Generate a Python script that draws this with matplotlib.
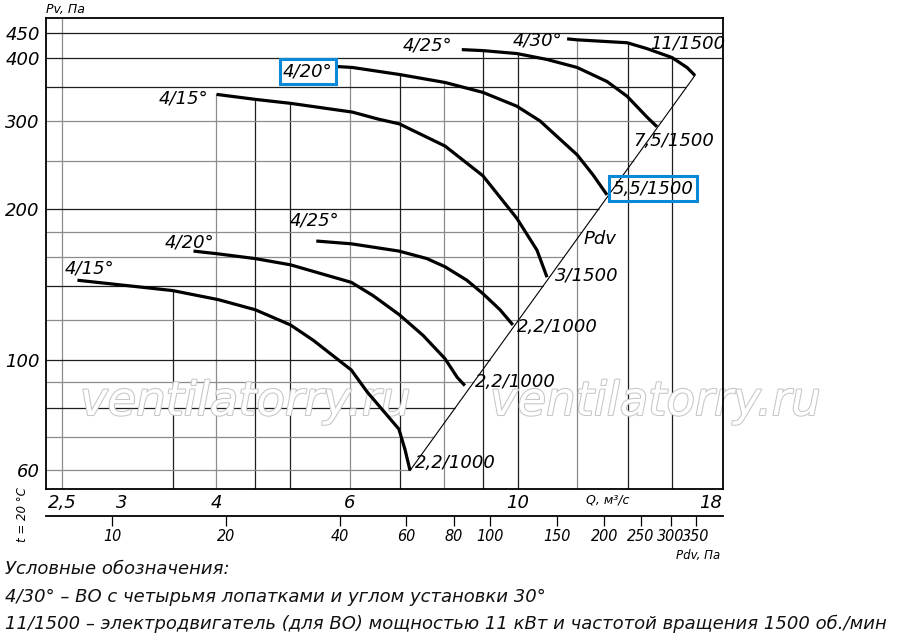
import numpy as np
import matplotlib
matplotlib.use("Agg")
import matplotlib.pyplot as plt
from matplotlib import patheffects as pe
from matplotlib.ticker import NullLocator

plt.rcParams['font.family'] = ['DejaVu Sans']
plt.rcParams['font.style'] = 'italic'

# ---------------- data ----------------
# lower group (2,2/1000 motors)
q_415_low = [2.62, 3.50, 4.02, 4.50, 5.01, 5.37, 6.03, 6.33, 6.97, 7.10, 7.21]
p_415_low = [144.1, 137.4, 131.8, 125.8, 117.3, 109.3, 95.3, 86.1, 72.6, 66.1, 60.0]
q_420_low = [3.73, 4.02, 4.50, 5.01, 6.03, 6.44, 6.98, 7.50, 8.02, 8.32, 8.52]
p_420_low = [164.8, 162.7, 159.2, 154.7, 142.7, 134.3, 122.9, 111.8, 100.4, 92.2, 88.7]
q_425_low = [5.42, 6.03, 6.97, 7.59, 8.02, 8.57, 9.00, 9.48, 9.86]
p_425_low = [172.6, 170.4, 164.8, 159.2, 153.3, 144.1, 135.5, 125.8, 117.3]
# upper group (1500 rpm motors)
q_415_up = [4.00, 4.50, 5.01, 6.05, 6.54, 6.98, 8.02, 9.00, 9.98, 10.61, 10.94]
p_415_up = [339.1, 331.4, 325.4, 312.5, 302.7, 296.0, 267.3, 233.1, 191.6, 165.5, 146.1]
q_420_up = [5.77, 6.05, 6.98, 8.02, 9.00, 9.98, 10.71, 11.99, 12.58, 13.13]
p_420_up = [385.5, 383.8, 371.6, 358.2, 342.2, 321.1, 300.0, 256.7, 234.2, 213.5]
q_425_up = [8.44, 9.00, 9.98, 10.94, 11.99, 13.13, 13.96, 14.83, 15.29]
p_425_up = [416.7, 414.8, 409.2, 398.2, 383.8, 359.8, 336.1, 305.4, 292.1]
q_430_up = [11.63, 11.99, 13.96, 14.83, 16.00, 16.75, 17.16]
p_430_up = [437.9, 435.9, 430.1, 418.6, 401.8, 383.8, 369.9]

# Pdv (dynamic pressure) line
q_pdv = [7.21, 17.16]
p_pdv = [60.0, 369.9]
K_PDV = 1.18  # Pdv = K * Q^2

q_grid = [2.5, 3.5, 4, 4.5, 5, 6, 7, 8, 9, 10, 12, 14, 16]
p_grid = [60, 70, 80, 90, 100, 120, 140, 160, 180, 200, 250, 300, 350, 400, 450]
q_ticks = [2.5, 3, 4, 6, 10, 18]
q_ticklabels = ["2,5", "3", "4", "6", "10", "18"]
p_ticks = [60, 100, 200, 300, 400, 450]
p_ticklabels = ["60", "100", "200", "300", "400", "450"]
pdv_ticks = [10, 20, 40, 60, 80, 100, 150, 200, 250, 300, 350]
pdv_ticklabels = [str(v) for v in pdv_ticks]

curves = [
    (q_415_low, p_415_low), (q_420_low, p_420_low), (q_425_low, p_425_low),
    (q_415_up, p_415_up), (q_420_up, p_420_up), (q_425_up, p_425_up),
    (q_430_up, p_430_up),
]

# ---------------- figure ----------------
W, H = 900, 640
fig = plt.figure(figsize=(9, 6.4), dpi=100)
ax = fig.add_axes([46 / W, 1 - 489 / H, 677 / W, 471 / H])
ax.set_xscale('log')
ax.set_yscale('log')
XLIM = (2.381, 18.69)
YLIM = (55.1, 482.0)
ax.set_xlim(*XLIM)
ax.set_ylim(*YLIM)

def p_on_curve(q, qs, ps):
    if qs[0] - 1e-9 <= q <= qs[-1] + 1e-9:
        return 10 ** np.interp(np.log10(q), np.log10(qs), np.log10(ps))
    return None

def q_on_pdv(p):
    lq = np.log10(q_pdv); lp = np.log10(p_pdv)
    return 10 ** np.interp(np.log10(p), lp, lq)

gray_v = {2.5, 4, 6, 8, 12}
gray_h = {60, 70, 90, 120, 160, 180, 250, 300}
GRAY = '#8c8c8c'
DARK = '#1e1e1e'

# vertical grid lines: from bottom up to the envelope of curves
for q in q_grid:
    tops = [p_on_curve(q, qs, ps) for qs, ps in curves]
    tops = [t for t in tops if t is not None]
    top = max(tops) if tops else YLIM[1]
    ax.plot([q, q], [YLIM[0], top], color=GRAY if q in gray_v else DARK,
            lw=0.9, zorder=1, solid_capstyle='butt')

# horizontal grid lines: from the left edge to the Pdv line
for p in p_grid:
    right = q_on_pdv(p) if p_pdv[0] <= p <= p_pdv[1] else XLIM[1]
    ax.plot([XLIM[0], right], [p, p], color=GRAY if p in gray_h else DARK,
            lw=0.9, zorder=1, solid_capstyle='butt')

# watermark
for xf in (80, 490):
    ax.text((xf - 46) / 677, (489 - 415) / 471, "ventilatorry.ru",
            transform=ax.transAxes, fontsize=33.5, color='white',
            fontstyle='oblique', ha='left', va='baseline', zorder=2,
            path_effects=[pe.withStroke(linewidth=1.5, foreground='#c6c6c6')])

# curves
for qs, ps in curves:
    ax.plot(qs, ps, color='black', lw=2.3, zorder=3,
            solid_capstyle='butt', solid_joinstyle='round')
ax.plot(q_pdv, p_pdv, color='black', lw=0.8, zorder=3)

# labels on the chart
FS = 13
blue = '#0a8ad6'
lbl = dict(fontsize=FS, va='center', ha='left', zorder=4)
ax.text(2.52, 151.8, "4/15°", **lbl)
ax.text(3.42, 171.1, "4/20°", **lbl)
ax.text(5.00, 189.7, "4/25°", **lbl)
ax.text(3.35, 333.0, "4/15°", **lbl)
ax.text(4.90, 376.8, "4/20°", bbox=dict(boxstyle='square,pad=0.2', fc='none',
                                         ec=blue, lw=2.2), **lbl)
ax.text(7.06, 424.4, "4/25°", **lbl)
ax.text(9.86, 434.1, "4/30°", **lbl)
ax.text(14.97, 428.0, "11/1500", **lbl)
ax.text(14.21, 273.3, "7,5/1500", **lbl)
ax.text(13.37, 219.5, "5,5/1500", bbox=dict(boxstyle='square,pad=0.2', fc='none',
                                            ec=blue, lw=2.2), **lbl)
ax.text(12.21, 174.0, "Pdv", **lbl)
ax.text(11.21, 147.5, "3/1500", **lbl)
ax.text(9.98, 116.3, "2,2/1000", **lbl)
ax.text(8.79, 90.0, "2,2/1000", **lbl)
ax.text(7.32, 62.1, "2,2/1000", **lbl)

# axes styling
for s in ax.spines.values():
    s.set_linewidth(1.3)
    s.set_color('black')
ax.xaxis.set_minor_locator(NullLocator())
ax.yaxis.set_minor_locator(NullLocator())
ax.set_xticks(q_ticks)
ax.set_xticklabels(q_ticklabels)
ax.set_yticks(p_ticks)
ax.set_yticklabels(p_ticklabels)
ax.tick_params(axis='x', length=0, pad=3.5, labelsize=FS)
ax.tick_params(axis='y', length=0, pad=4.5, labelsize=FS)

# secondary Pdv scale
def fwd(q):
    return K_PDV * np.asarray(q, dtype=float) ** 2

def inv(p):
    return np.sqrt(np.maximum(np.asarray(p, dtype=float), 1e-9) / K_PDV)

sec = ax.secondary_xaxis((489 - 516) / 471, functions=(fwd, inv))
sec.set_xticks(pdv_ticks)
sec.set_xticklabels(pdv_ticklabels)
sec.xaxis.set_minor_locator(NullLocator())
sec.spines['bottom'].set_linewidth(1.3)
sec.tick_params(axis='x', direction='out', length=7, width=0.9, pad=2.5)
for t in sec.get_xticklabels():
    t.set_fontfamily('DejaVu Sans')
    t.set_fontstretch('condensed')
    t.set_fontsize(11.5)
    t.set_fontstyle('italic')

# small captions
fig.text(46 / W, 1 - 9 / H, "Pv, Па", fontsize=9, ha='left', va='center')
fig.text(608 / W, 1 - 500 / H, "Q, м³/с", fontsize=9, ha='center', va='center')
fig.text(720 / W, 1 - 556 / H, "Pdv, Па", fontsize=8.5, ha='right', va='center')
fig.text(22 / W, 1 - 515 / H, "t = 20 °C", fontsize=8.5, ha='center',
         va='center', rotation=90)

# legend notes
notes = [
    "Условные обозначения:",
    "4/30° – ВО с четырьмя лопатками и углом установки 30°",
    "11/1500 – электродвигатель (для ВО) мощностью 11 кВт и частотой вращения 1500 об./мин",
]
for i, t in enumerate(notes):
    fig.text(5 / W, 1 - (569 + 27.5 * i) / H, t, fontsize=13, ha='left',
             va='center', color='#111111')

fig.savefig("out.png", dpi=100, facecolor='white')
